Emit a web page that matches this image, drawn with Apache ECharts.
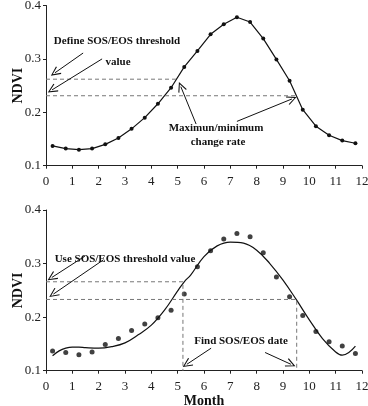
<!DOCTYPE html>
<html>
<head>
<meta charset="utf-8">
<script src="https://cdn.jsdelivr.net/npm/echarts@6/dist/echarts.min.js"></script>
<style>
html,body{margin:0;padding:0;background:#fff;}
#chart{width:368px;height:406px;}
</style>
</head>
<body>
<div id="chart"></div>
<script>
// ---- data ----
const months = [0.25,0.75,1.25,1.75,2.25,2.75,3.25,3.75,4.25,4.75,5.25,5.75,6.25,6.75,7.25,7.75,8.25,8.75,9.25,9.75,10.25,10.75,11.25,11.75];
const ndviTop = [0.137,0.132,0.130,0.132,0.140,0.152,0.169,0.190,0.216,0.246,0.285,0.315,0.346,0.365,0.378,0.369,0.338,0.299,0.259,0.205,0.174,0.157,0.147,0.142];
const ndviBottom = [0.137,0.134,0.130,0.135,0.149,0.160,0.175,0.187,0.199,0.213,0.243,0.294,0.324,0.346,0.356,0.350,0.320,0.275,0.238,0.203,0.173,0.154,0.146,0.132];
const fitMonths = [0.25,0.5,0.75,1,1.25,1.5,2,2.5,3,3.5,4,4.5,5,5.25,5.5,6,6.5,7,7.5,8,8.5,9,9.5,10,10.5,11,11.25,11.5,11.75];
const fitValues = [0.128,0.137,0.142,0.144,0.144,0.143,0.142,0.145,0.152,0.167,0.185,0.213,0.249,0.266,0.279,0.313,0.333,0.340,0.338,0.325,0.300,0.269,0.233,0.195,0.160,0.135,0.129,0.134,0.146];
const yTicks = [0.1,0.2,0.3,0.4];
const xTicks = [0,1,2,3,4,5,6,7,8,9,10,11,12];
// thresholds (SOS, EOS) and crossing months
const topThresholds = [0.262,0.231];
const topThresholdEnds = [5.0,9.5];
const botThresholds = [0.266,0.233];
const botDates = [5.2,9.52];
// annotation arrows [fromMonth, fromNDVI, toMonth, toNDVI]
const topArrows = [[1.41,0.311,0.34,0.274],[2.13,0.300,0.23,0.242],[5.70,0.178,5.12,0.248],[7.25,0.183,9.34,0.225]];
const botArrows = [[1.48,0.314,0.22,0.274],[2.18,0.307,0.28,0.243],[6.27,0.142,5.35,0.112],[8.32,0.134,9.30,0.112]];

const FONT = '"Liberation Serif","DejaVu Serif",serif';
const chevron = 'path://M0,0 L5,9 L4,9.6 L0,2.2 L-4,9.6 L-5,9 Z';

function xAxisCfg(gi, name){
  return {
    gridIndex: gi, type:'value', min:0, max:12, interval:1,
    axisLine:{lineStyle:{color:'#222',width:1}},
    axisTick:{show:true,length:3,inside:false,lineStyle:{color:'#222'}},
    splitLine:{show:false},
    axisLabel:{color:'#222',fontFamily:FONT,fontSize:13,margin:9,
      formatter:v=> xTicks.includes(v)? String(v):''},
    name: name||'', nameLocation:'middle', nameGap:24, nameMoveOverlap:false,
    nameTextStyle:{fontFamily:FONT,fontSize:14,fontWeight:'bold',color:'#111'}
  };
}
function yAxisCfg(gi){
  return {
    gridIndex: gi, type:'value', min:0.1, max:0.4, interval:0.1,
    axisLine:{show:true,lineStyle:{color:'#222',width:1}},
    axisTick:{show:true,length:3,inside:false,lineStyle:{color:'#222'}},
    splitLine:{show:false},
    axisLabel:{color:'#222',fontFamily:FONT,fontSize:13,margin:5,
      formatter:v=>{const t=yTicks.find(k=>Math.abs(k-v)<1e-6);return t!==undefined? t.toFixed(1):'';}},
    name:'NDVI', nameLocation:'middle', nameGap:21, nameRotate:90, nameMoveOverlap:false,
    nameTextStyle:{fontFamily:FONT,fontSize:14,fontWeight:'bold',color:'#111'}
  };
}
function dashSeries(gi, pts){
  return {type:'line', xAxisIndex:gi, yAxisIndex:gi, data:pts, symbol:'none', silent:true,
    lineStyle:{color:'#777',width:1,type:[4,3]}, animation:false};
}
function arrowLines(arr){
  return arr.map(a=>[{coord:[a[0],a[1]]},{coord:[a[2],a[3]]}]);
}

const series = [];
series.push({type:'line', xAxisIndex:0, yAxisIndex:0,
  data: months.map((m,i)=>[m, ndviTop[i]]),
  symbol:'circle', symbolSize:4, showSymbol:true,
  itemStyle:{color:'#111'}, lineStyle:{color:'#111',width:1.2},
  animation:false,
  markLine:{silent:true, animation:false, symbol:['none',chevron], symbolSize:[9,10],
    label:{show:false}, lineStyle:{color:'#111',width:1,type:'solid'},
    data: arrowLines(topArrows)}
});
series.push(dashSeries(0, [[0,topThresholds[0]],[topThresholdEnds[0],topThresholds[0]]]));
series.push(dashSeries(0, [[0,topThresholds[1]],[topThresholdEnds[1],topThresholds[1]]]));
series.push({type:'scatter', xAxisIndex:1, yAxisIndex:1,
  data: months.map((m,i)=>[m, ndviBottom[i]]),
  symbol:'circle', symbolSize:5, itemStyle:{color:'#111'}, animation:false});
series.push({type:'line', xAxisIndex:1, yAxisIndex:1,
  data: fitMonths.map((m,i)=>[m, fitValues[i]]),
  symbol:'none', smooth:0.4, lineStyle:{color:'#111',width:1.2}, animation:false,
  markLine:{silent:true, animation:false, symbol:['none',chevron], symbolSize:[9,10],
    label:{show:false}, lineStyle:{color:'#111',width:1,type:'solid'},
    data: arrowLines(botArrows)}
});
series.push(dashSeries(1, [[0,botThresholds[0]],[botDates[0],botThresholds[0]],[botDates[0],0.1]]));
series.push(dashSeries(1, [[0,botThresholds[1]],[botDates[1],botThresholds[1]],[botDates[1],0.1]]));

const txt = (x,y,t)=>({type:'text', x:x, y:y, silent:true,
  style:{text:t, font:'bold 11px '+FONT, fill:'#111', align:'center', verticalAlign:'middle'}});

const option = {
  backgroundColor:'#fff',
  animation:false,
  grid:[
    {left:46, width:316, top:5.5, height:160.2, containLabel:false, outerBoundsMode:'none'},
    {left:46, width:316, top:210, height:160.7, containLabel:false, outerBoundsMode:'none'}
  ],
  xAxis:[xAxisCfg(0), xAxisCfg(1,'Month')],
  yAxis:[yAxisCfg(0), yAxisCfg(1)],
  series: series,
  graphic:[
    txt(117,41,'Define SOS/EOS threshold'),
    txt(118,62,'value'),
    txt(216,128,'Maximun/minimum'),
    txt(218,142,'change rate'),
    txt(125,259,'Use SOS/EOS threshold value'),
    txt(241,341,'Find SOS/EOS date')
  ]
};
const chart = echarts.init(document.getElementById('chart'), null, {renderer:'canvas'});
chart.setOption(option);
</script>
</body>
</html>
